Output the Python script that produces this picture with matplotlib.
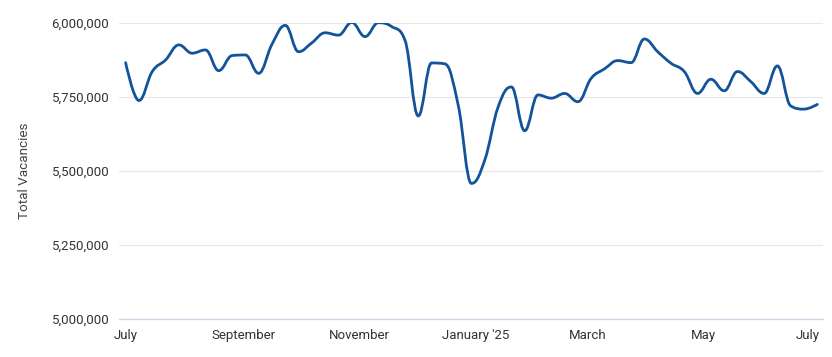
import numpy as np
import matplotlib
matplotlib.use("Agg")
import matplotlib.pyplot as plt
import matplotlib.dates as mdates
from matplotlib.path import Path
from matplotlib.patches import PathPatch
from matplotlib.ticker import FuncFormatter, FixedLocator

plt.rcParams['font.family'] = ['Roboto', 'DejaVu Sans']

# weekly totals
dates = np.arange(np.datetime64('2024-07-01'), np.datetime64('2025-07-01'), np.timedelta64(7, 'D'))
vacancies = [
    5866000, 5738000, 5836000, 5875000, 5926000, 5898000, 5909000, 5839000,
    5890000, 5892000, 5830000, 5928000, 5992000, 5903000, 5933000, 5967000,
    5959000, 6002000, 5954000, 6001000, 5988000, 5942000, 5686000, 5865000,
    5862000, 5723000, 5458000, 5537000, 5716000, 5784000, 5636000, 5757000,
    5746000, 5762000, 5734000, 5813000, 5845000, 5873000, 5866000, 5946000,
    5903000, 5864000, 5836000, 5762000, 5810000, 5771000, 5836000, 5802000,
    5762000, 5855000, 5720000, 5709000, 5725000,
]
tick_dates = ['2024-07-01', '2024-09-01', '2024-11-01', '2025-01-01',
              '2025-03-01', '2025-05-01', '2025-07-01']
tick_labels = ['July', 'September', 'November', "January '25", 'March', 'May', 'July']
y_ticks = [5000000, 5250000, 5500000, 5750000, 6000000]

line_color = '#13539a'


def spline_path(xs, ys, smoothing=1.5):
    # highcharts-style spline: cubic bezier with corrected control points
    n = len(xs)
    lc = [(xs[i], ys[i]) for i in range(n)]
    rc = [(xs[i], ys[i]) for i in range(n)]
    d = smoothing + 1
    for i in range(1, n - 1):
        px, py = xs[i - 1], ys[i - 1]
        x, y = xs[i], ys[i]
        nx, ny = xs[i + 1], ys[i + 1]
        lx = (smoothing * x + px) / d
        ly = (smoothing * y + py) / d
        rx = (smoothing * x + nx) / d
        ry = (smoothing * y + ny) / d
        if rx != lx:
            corr = (ry - ly) * (rx - x) / (rx - lx) + y - ry
            ly += corr
            ry += corr
        if ly > py and ly > y:
            ly = max(py, y)
            ry = 2 * y - ly
        elif ly < py and ly < y:
            ly = min(py, y)
            ry = 2 * y - ly
        if ry > ny and ry > y:
            ry = max(ny, y)
            ly = 2 * y - ry
        elif ry < ny and ry < y:
            ry = min(ny, y)
            ly = 2 * y - ry
        lc[i] = (lx, ly)
        rc[i] = (rx, ry)
    verts = [(xs[0], ys[0])]
    codes = [Path.MOVETO]
    for i in range(1, n):
        verts += [rc[i - 1], lc[i], (xs[i], ys[i])]
        codes += [Path.CURVE4] * 3
    return Path(verts, codes)


xnum = mdates.date2num(dates.astype('datetime64[D]').astype(object))
vals = np.array(vacancies, dtype=float)

fig = plt.figure(figsize=(8.32, 3.57), dpi=100)
ax = fig.add_axes([119 / 832, 38 / 357, 704 / 832, 296 / 357])

ax.add_patch(PathPatch(spline_path(xnum, vals), facecolor='none',
                       edgecolor=line_color, lw=2.0, capstyle='round', joinstyle='round', zorder=3))

x0 = mdates.date2num(np.datetime64('2024-07-01').astype(object))
ax.set_xlim(x0 - 3.5, x0 + 367)
ax.set_ylim(5000000, 6000000)

tick_nums = [mdates.date2num(np.datetime64(t).astype(object)) for t in tick_dates]
ax.xaxis.set_major_locator(FixedLocator(tick_nums))
ax.set_xticklabels(tick_labels)
ax.get_xticklabels()[-1].set_horizontalalignment('right')
ax.set_yticks(y_ticks)
ax.yaxis.set_major_formatter(FuncFormatter(lambda v, p: f'{int(v):,}'))

ax.tick_params(axis='both', length=0, labelsize=9.5, labelcolor='#333333')
ax.tick_params(axis='x', pad=7)
ax.tick_params(axis='y', pad=7)
ax.grid(axis='y', color='#e6e6e6', lw=0.8)
ax.set_axisbelow(True)
for s in ['top', 'right', 'left']:
    ax.spines[s].set_visible(False)
ax.spines['bottom'].set_color('#ccd6eb')
ax.spines['bottom'].set_linewidth(0.9)
ax.spines['bottom'].set_zorder(2)

ax.set_ylabel('Total Vacancies', fontsize=9.7, color='#444444', labelpad=15)

fig.savefig('out.png', dpi=100)
